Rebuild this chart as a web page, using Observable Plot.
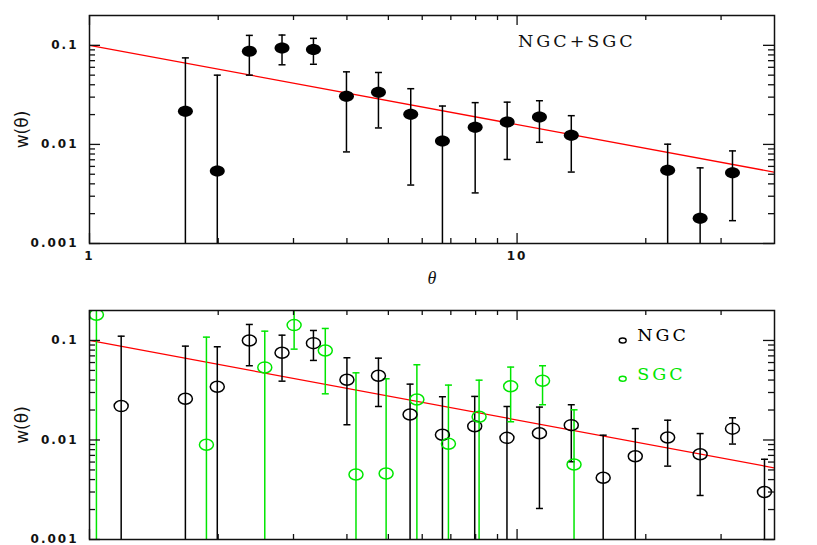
<!DOCTYPE html>
<html><head><meta charset="utf-8">
<script src="https://cdn.jsdelivr.net/npm/d3@7"></script>
<script src="https://cdn.jsdelivr.net/npm/@observablehq/plot@0.6"></script>
<style>
body{margin:0;background:#fff;}
#chart svg{display:block;}
</style></head><body><div id="chart"></div>
<script>
// ---------- data ----------
const xDomain = [1, 40];
const yDomain = [0.001, 0.2];
const xMajor = [1, 10];
const xMinor = [2, 3, 4, 5, 6, 7, 8, 9, 20, 30];
const yMajor = [0.001, 0.01, 0.1];
const yMinor = [0.002, 0.003, 0.004, 0.005, 0.006, 0.007, 0.008, 0.009, 0.02, 0.03, 0.04, 0.05, 0.06, 0.07, 0.08, 0.09];
const xTickLabels = [1, 10];
const yTickLabels = [0.001, 0.01, 0.1];

// power-law fit line endpoints
const fitTheta = [1, 40];
const fitW = [0.1, 0.00524];

// combined NGC+SGC
const allTheta = [1.676, 1.99, 2.365, 2.82, 3.34, 3.99, 4.74, 5.64, 6.69, 7.98, 9.48, 11.28, 13.39, 22.5, 26.8, 31.9];
const allW     = [0.0216, 0.00538, 0.087, 0.094, 0.0905, 0.0307, 0.0337, 0.0201, 0.01084, 0.0149, 0.0168, 0.0189, 0.01238, 0.0055, 0.0018, 0.00518];
const allHi    = [0.0747, 0.05, 0.126, 0.127, 0.1176, 0.054, 0.0532, 0.0365, 0.0244, 0.0264, 0.0267, 0.0276, 0.0195, 0.01005, 0.0058, 0.0086];
const allLo    = [null, null, 0.05, 0.0636, 0.0644, 0.0084, 0.01466, 0.00389, null, 0.00324, 0.00705, 0.0105, 0.00526, null, null, 0.0017];

// NGC
const ngcTheta = [1.186, 1.676, 1.99, 2.365, 2.82, 3.34, 4.0, 4.74, 5.62, 6.69, 7.96, 9.47, 11.28, 13.39, 15.9, 18.9, 22.5, 26.8, 31.9, 37.9];
const ngcW     = [0.0219, 0.026, 0.0343, 0.1, 0.0752, 0.094, 0.0403, 0.0442, 0.018, 0.01127, 0.01377, 0.0105, 0.0117, 0.0141, 0.00417, 0.00687, 0.0106, 0.0072, 0.013, 0.003];
const ngcHi    = [0.1104, 0.0877, 0.0864, 0.1448, 0.113, 0.126, 0.067, 0.0664, 0.0364, 0.0272, 0.0274, 0.0217, 0.0214, 0.0226, 0.01117, 0.013, 0.0158, 0.0116, 0.0167, 0.0064];
const ngcLo    = [null, null, null, 0.0557, 0.039, 0.063, 0.01422, 0.0217, null, null, null, null, 0.00205, 0.00604, null, null, 0.00546, 0.00277, 0.0091, null];

// SGC
const sgcTheta = [1.038, 1.877, 2.57, 3.01, 3.56, 4.20, 4.94, 5.83, 6.91, 8.15, 9.66, 11.47, 13.59];
const sgcW     = [0.181, 0.00895, 0.0536, 0.1426, 0.0793, 0.0045, 0.0046, 0.0255, 0.00916, 0.0171, 0.0347, 0.0394, 0.00568];
const sgcHi    = [null, 0.108, 0.124, null, 0.132, 0.0473, 0.0412, 0.057, 0.0356, 0.0399, 0.054, 0.0557, 0.0201];
const sgcLo    = [null, null, null, 0.0818, 0.0291, null, null, null, null, null, 0.01524, 0.0226, null];

const legendKeys = ["NGC", "SGC"];
const legendColors = ["#000000", "#00e600"];
const legendMarkTheta = 17.66;
const legendTextTheta = 19.1;
const legendW = [0.1, 0.0412];
const annoText = "NGC+SGC";
const annoTheta = 10.05;
const annoW = 0.097;

// ---------- helpers ----------
const rows = (t, w, hi, lo) => t.map((x, i) => ({x, w: w[i], hi: hi[i], lo: lo[i]}));
const allData = rows(allTheta, allW, allHi, allLo);
const ngcData = rows(ngcTheta, ngcW, ngcHi, ngcLo);
const sgcData = rows(sgcTheta, sgcW, sgcHi, sgcLo);
const fitData = fitTheta.map((x, i) => ({x, w: fitW[i]}));

function ellipse(rx, ry) {
  const k = 0.5523;
  return {draw(ctx) {
    ctx.moveTo(rx, 0);
    ctx.bezierCurveTo(rx, ry * k, rx * k, ry, 0, ry);
    ctx.bezierCurveTo(-rx * k, ry, -rx, ry * k, -rx, 0);
    ctx.bezierCurveTo(-rx, -ry * k, -rx * k, -ry, 0, -ry);
    ctx.bezierCurveTo(rx * k, -ry, rx, -ry * k, rx, 0);
    ctx.closePath();
  }};
}
const capSym = {draw(ctx) { ctx.moveTo(-3.5, 0); ctx.lineTo(3.5, 0); }};

const W = 817, ML = 89, MR = 43;
const plotW = W - ML - MR;

function tickMarks(plotH) {
  const s = {stroke: "#111", strokeWidth: 1.3};
  return [
    Plot.ruleX(xMajor, {x: d => d, insetTop: plotH - 10, ...s}),
    Plot.ruleX(xMajor, {x: d => d, insetBottom: plotH - 10, ...s}),
    Plot.ruleX(xMinor, {x: d => d, insetTop: plotH - 5, ...s}),
    Plot.ruleX(xMinor, {x: d => d, insetBottom: plotH - 5, ...s}),
    Plot.ruleY(yMajor, {y: d => d, insetRight: plotW - 11, ...s}),
    Plot.ruleY(yMajor, {y: d => d, insetLeft: plotW - 11, ...s}),
    Plot.ruleY(yMinor, {y: d => d, insetRight: plotW - 6, ...s}),
    Plot.ruleY(yMinor, {y: d => d, insetLeft: plotW - 6, ...s}),
    Plot.frame({stroke: "#111", strokeWidth: 1.5})
  ];
}

function errMarks(data, color) {
  return [
    Plot.ruleX(data, {x: "x", y1: d => d.lo ?? 0.0001, y2: d => d.hi ?? 1, stroke: color, strokeWidth: 1.5, clip: true}),
    Plot.dot(data.filter(d => d.hi != null), {x: "x", y: "hi", symbol: capSym, stroke: color, strokeWidth: 1.5, fill: "none", clip: true}),
    Plot.dot(data.filter(d => d.lo != null), {x: "x", y: "lo", symbol: capSym, stroke: color, strokeWidth: 1.5, fill: "none", clip: true})
  ];
}

function yAxisMarks() {
  return [
    Plot.axisY(yTickLabels, {anchor: "left", tickSize: 0, tickPadding: 11, tickFormat: d => String(d),
      fontSize: 12, fontWeight: "bold", fontFamily: "DejaVu Sans", fill: "#111", label: null}),
    Plot.text(["w(θ)"], {frameAnchor: "left", rotate: -90, dx: -62, lineAnchor: "bottom", textAnchor: "middle",
      fontSize: 17, fontFamily: "DejaVu Sans", fill: "#111"})
  ];
}

// ---------- top panel ----------
const topH = 290;
const topChart = Plot.plot({
  width: W, height: topH, marginTop: 15, marginBottom: 47, marginLeft: ML, marginRight: MR,
  style: {background: "#fff", overflow: "visible"},
  x: {type: "log", domain: xDomain},
  y: {type: "log", domain: yDomain},
  marks: [
    Plot.line(fitData, {x: "x", y: "w", stroke: "#ff0000", strokeWidth: 1.3, clip: true}),
    ...errMarks(allData, "#000"),
    Plot.dot(allData, {x: "x", y: "w", symbol: ellipse(7.5, 5.5), fill: "#000", stroke: "none", clip: true}),
    ...tickMarks(topH - 15 - 47),
    Plot.axisX(xTickLabels, {anchor: "bottom", tickSize: 0, tickPadding: 8, tickFormat: d => String(d),
      fontSize: 12, fontWeight: "bold", fontFamily: "DejaVu Sans", fill: "#111", label: null}),
    ...yAxisMarks(),
    Plot.text(["θ"], {frameAnchor: "bottom", dy: 40, lineAnchor: "bottom", fontStyle: "italic",
      fontSize: 18, fontFamily: "Liberation Serif", fill: "#111"}),
    Plot.text([annoText], {x: annoTheta, y: annoW, text: d => d, textAnchor: "start", lineAnchor: "bottom",
      fontSize: 17.5, fontFamily: "DejaVu Serif", fill: "#111"})
  ]
});

// ---------- bottom panel ----------
const botH = 255;
const bottomChart = Plot.plot({
  width: W, height: botH, marginTop: 20, marginBottom: 6, marginLeft: ML, marginRight: MR,
  style: {background: "#fff", overflow: "visible"},
  x: {type: "log", domain: xDomain, axis: null},
  y: {type: "log", domain: yDomain},
  marks: [
    Plot.line(fitData, {x: "x", y: "w", stroke: "#ff0000", strokeWidth: 1.3, clip: true}),
    ...errMarks(ngcData, legendColors[0]),
    ...errMarks(sgcData, legendColors[1]),
    Plot.dot(ngcData, {x: "x", y: "w", symbol: ellipse(7, 5.5), fill: "none", stroke: legendColors[0], strokeWidth: 1.5, clip: true}),
    Plot.dot(sgcData, {x: "x", y: "w", symbol: ellipse(7, 5.5), fill: "none", stroke: legendColors[1], strokeWidth: 1.5, clip: true}),
    ...tickMarks(botH - 20 - 6),
    ...yAxisMarks(),
    Plot.dot(legendKeys, {x: () => legendMarkTheta, y: (d, i) => legendW[i], symbol: ellipse(3.5, 2.5), fill: "none",
      stroke: (d, i) => legendColors[i], strokeWidth: 1.4}),
    Plot.text(legendKeys, {x: () => legendTextTheta, y: (d, i) => legendW[i], text: d => d, dy: 1, textAnchor: "start",
      lineAnchor: "bottom", fontSize: 17.5, fontFamily: "DejaVu Serif", fill: (d, i) => legendColors[i]})
  ]
});

const el = document.getElementById("chart");
el.append(topChart, bottomChart);

// letter spacing to mimic the wide plotting font of the original
const wide = new Set([annoText, ...legendKeys]);
const ticks = new Set([...yTickLabels, ...xTickLabels].map(String));
d3.select(el).selectAll("text").each(function() {
  const t = this.textContent;
  if (wide.has(t)) d3.select(this).style("letter-spacing", "3px");
  else if (ticks.has(t)) d3.select(this).style("letter-spacing", "2px");
});
</script></body></html>
